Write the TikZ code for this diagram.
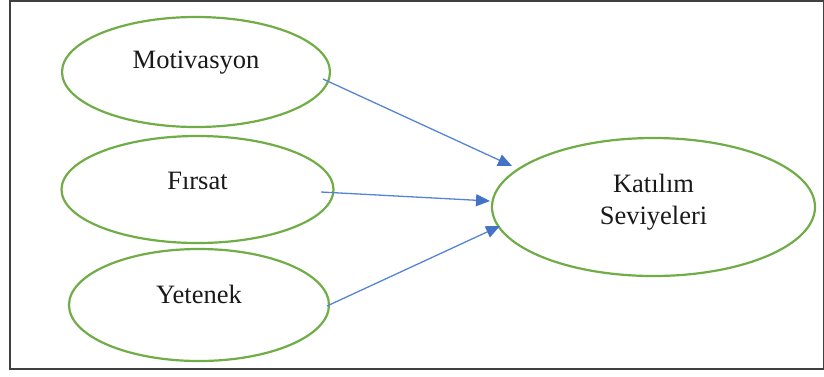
\documentclass[tikz,border=0pt]{standalone}
\usepackage{fontspec}
\setmainfont{Liberation Serif}
\usetikzlibrary{shapes.geometric,arrows.meta,calc}
\definecolor{ellgreen}{RGB}{112,173,71}
\definecolor{arrblue}{RGB}{86,132,212}
\definecolor{tipblue}{RGB}{68,114,196}
\definecolor{framegray}{RGB}{64,64,64}
\begin{document}
\begin{tikzpicture}[x=1pt,y=-1pt,
  ell/.style={draw=ellgreen, line width=2.2pt, ellipse, inner sep=0pt, fill=white,
    font=\fontsize{26.5}{33}\selectfont, text=black!90},
  conn/.style={draw=arrblue, line width=1.3pt,
    -{Triangle[length=14pt,width=12pt,fill=tipblue,color=tipblue]}}]
\useasboundingbox (0,0) rectangle (824,376);
\draw[framegray, line width=1.6pt] (10,1) rectangle (823.5,369);
\node[ell, minimum width=268pt, minimum height=110pt] (mot) at (196,72)
  {\raisebox{9pt}[\height][\depth]{Motivasyon}};
\node[ell, minimum width=272pt, minimum height=107pt] (fir) at (197.5,189.5)
  {\raisebox{8.5pt}[\height][\depth]{Fırsat}};
\node[ell, minimum width=260pt, minimum height=112pt] (yet) at (199,305)
  {\raisebox{11pt}[\height][\depth]{Yetenek}};
\node[ell, minimum width=323pt, minimum height=138pt] (kat) at (653.5,207)
  {\raisebox{5pt}[\height][\depth]{\begin{tabular}{@{}c@{}}Katılım\\[-1pt]Seviyeleri\end{tabular}}};
\draw[conn] ($(mot.center)+(127,7)$) -- ($(kat.center)+(-141.5,-41)$);
\draw[conn] ($(fir.center)+(123.5,2.5)$) -- ($(kat.center)+(-163.5,-6)$);
\draw[conn] ($(yet.center)+(128,1)$) -- ($(kat.center)+(-153.5,19)$);
\end{tikzpicture}
\end{document}
